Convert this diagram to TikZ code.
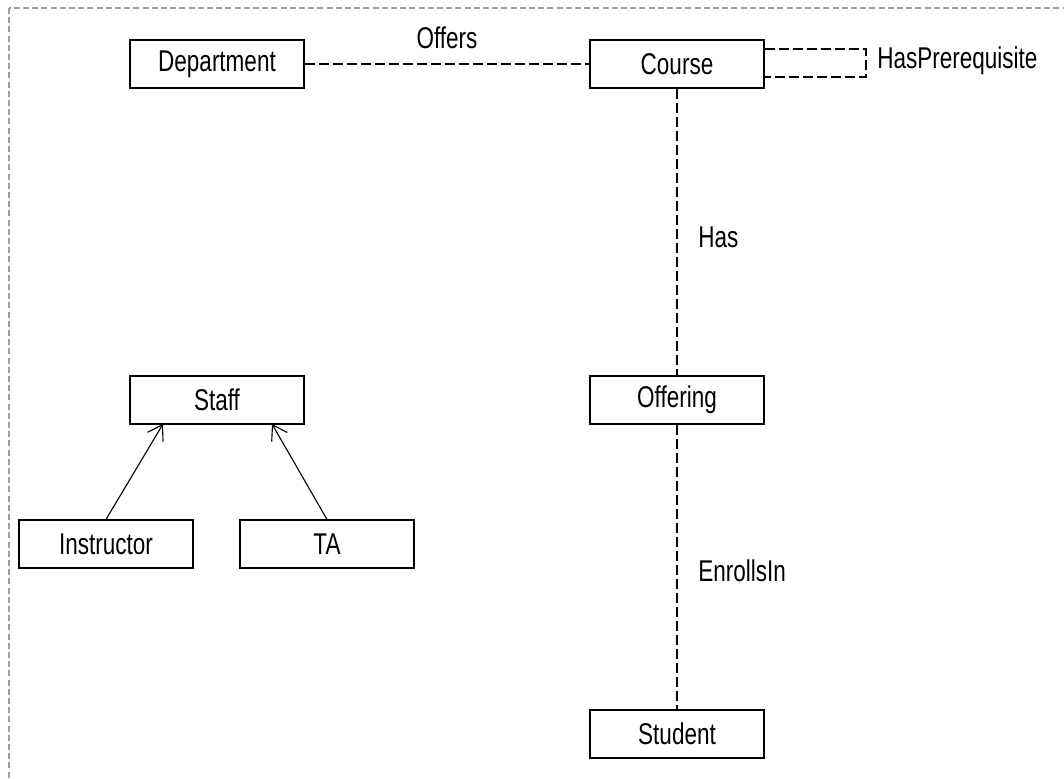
\documentclass[tikz,border=0pt]{standalone}
\usepackage{fontspec}
\setmainfont{Liberation Sans}[FakeStretch=0.75]
\usetikzlibrary{arrows.meta}
\begin{document}
\begin{tikzpicture}[x=0.5pt,y=-0.5pt,
  font=\fontsize{15}{17}\selectfont,
  entity/.style={draw, line width=0.55pt, minimum width=87pt, minimum height=24pt, inner sep=0pt, fill=white},
  rel/.style={dashed, dash pattern=on 5pt off 2pt, line width=0.55pt},
  isa/.style={line width=0.55pt, -{Straight Barb[length=7pt,width=9pt]}},
  lbl/.style={inner sep=0pt, anchor=west},
  frame/.style={draw=black!38, line width=0.9pt, dash pattern=on 3pt off 1.6pt}]
  \useasboundingbox (0,0) rectangle (1064,779);
  \begin{scope}
    \clip (0,0) rectangle (1064,779);
    \draw[frame] (9,8) rectangle (1090,800);
  \end{scope}

  % entities
  \node[entity] (dept)     at (217,64)  {Department};
  \node[entity] (course)   at (677,64)  {Course};
  \node[entity] (offering) at (677,400) {Offering};
  \node[entity] (student)  at (677,734) {Student};
  \node[entity] (staff)    at (217,400) {Staff};
  \node[entity] (instr)    at (106,544) {Instructor};
  \node[entity] (ta)       at (327,544) {TA};

  % relationships
  \draw[rel] (dept) -- (course);
  \node[inner sep=0pt] (offers) at (447,38) {Offers};

  \draw[rel] (course) -- (offering);
  \node[lbl] (has) at (698,237) {Has};

  \draw[rel] (offering) -- (student);
  \node[lbl] (enrolls) at (698,571) {EnrollsIn};

  % self-relationship on Course
  \coordinate (lp1) at (866,49);
  \coordinate (lp2) at (866,77);
  \draw[rel] (course.east |- lp1) -- (lp1) -- (lp2) -- (course.east |- lp2);
  \node[lbl] (prereq) at (877,61) {HasPrerequisite};

  % specialisation of Staff
  \coordinate (staffL) at (163,424);
  \coordinate (staffR) at (272,424);
  \draw[isa] (instr.north) -- (staffL);
  \draw[isa] (ta.north) -- (staffR);
\end{tikzpicture}
\end{document}
